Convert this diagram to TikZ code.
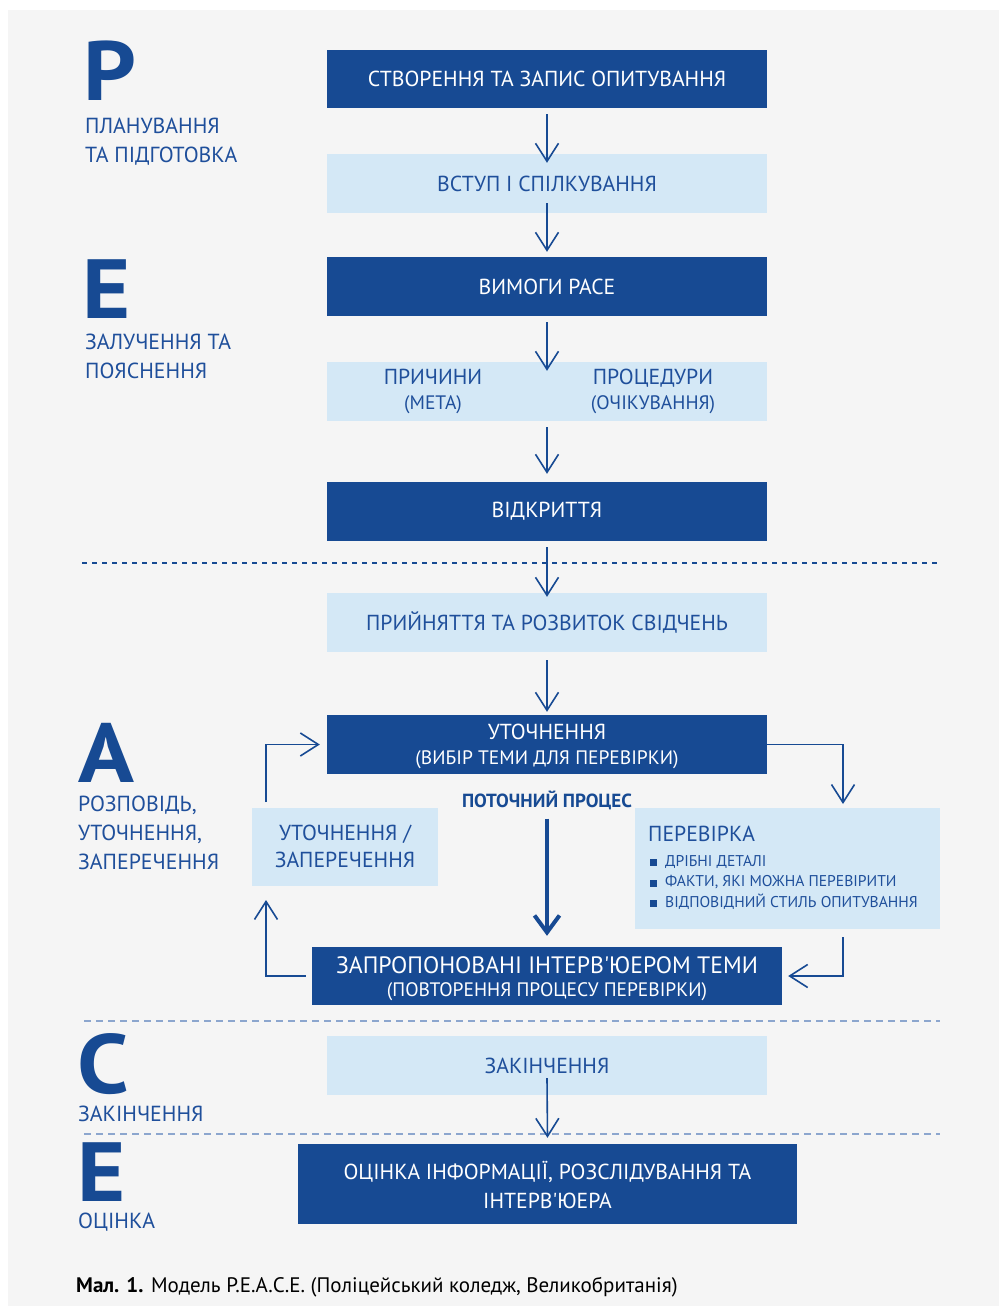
\documentclass[tikz,border=0pt]{standalone}
\usepackage{fontspec}
\setmainfont{PT Sans}
\newfontfamily\nolig{PT Sans}[Ligatures=TeXOff]
\usetikzlibrary{arrows.meta,calc}
\definecolor{dblue}{HTML}{174A93}
\definecolor{lbox}{HTML}{D4E8F6}
\definecolor{tblue}{HTML}{1F4F9B}
\definecolor{bgc}{HTML}{F5F5F5}
\definecolor{ldash}{HTML}{8CA6CE}
\newcommand{\sqb}{\textcolor{dblue}{\rule{7pt}{7pt}}\hspace{8pt}}
\newcommand{\wideletter}[1]{\scalebox{1.1}[1]{#1}}
\newcommand{\apos}{{\nolig'}}
% #1 raise of first baseline above box centre, #2 extra row gap, #3 line 1, #4 line 2
\newcommand{\twolines}[4]{\raisebox{#1}[0pt][0pt]{\begin{tabular}[t]{@{}c@{}}#3\\[#2]#4\end{tabular}}}
\begin{document}
\begin{tikzpicture}[x=1pt,y=-1pt,
  darkbox/.style={fill=dblue,text=white,inner sep=0pt,align=center,font=\fontsize{21.7}{27}\selectfont},
  lightbox/.style={fill=lbox,text=tblue,inner sep=0pt,align=center,font=\fontsize{21.7}{27}\selectfont},
  bigletter/.style={anchor=base west,inner sep=0pt,text=dblue,font=\fontsize{84}{84}\selectfont\bfseries},
  sidelabel/.style={anchor=base west,inner sep=0pt,text=tblue,font=\fontsize{21.8}{24}\selectfont},
  arr/.style={draw=dblue,line width=1.6pt,-{Straight Barb[length=18pt,width=23pt]}},
  arrthick/.style={draw=dblue,line width=4pt,-{Straight Barb[length=17pt,width=25pt]}},
  darkdash/.style={draw=dblue,line width=1.2pt,dash pattern=on 5pt off 5pt},
  lightdash/.style={draw=ldash,line width=1.6pt,dash pattern=on 7pt off 5pt}]
\fill[white] (0,0) rectangle (999,1306);
\fill[bgc] (8,10) rectangle (999,1306);
\useasboundingbox (0,0) rectangle (999,1306);

% dashed separators
\draw[darkdash] (82,563) -- (940,563);
\draw[lightdash] (84,1021) -- (940,1021);
\draw[lightdash] (84,1134) -- (940,1134);

% big letters and side labels
\node[bigletter] (LP) at (83,100) {\wideletter{P}};
\node[sidelabel] (lp1) at (85,133) {ПЛАНУВАННЯ};
\node[sidelabel] (lp2) at (85,162) {ТА ПІДГОТОВКА};
\node[bigletter] (LE) at (82,318) {\wideletter{E}};
\node[sidelabel] (le1) at (85,349) {ЗАЛУЧЕННЯ ТА};
\node[sidelabel] (le2) at (85,378) {ПОЯСНЕННЯ};
\node[bigletter] (LA) at (78,782) {\wideletter{A}};
\node[sidelabel] (la1) at (78,811) {РОЗПОВІДЬ,};
\node[sidelabel] (la2) at (78,840) {УТОЧНЕННЯ,};
\node[sidelabel] (la3) at (78,869) {ЗАПЕРЕЧЕННЯ};
\node[bigletter] (LC) at (77,1093) {\wideletter{C}};
\node[sidelabel] (lc1) at (78,1121) {ЗАКІНЧЕННЯ};
\node[bigletter] (LE2) at (77,1201) {\wideletter{E}};
\node[sidelabel] (le3) at (78,1228) {ОЦІНКА};

% main column
\node[darkbox,minimum width=440pt,minimum height=58pt] (n1) at (547,79) {СТВОРЕННЯ ТА ЗАПИС ОПИТУВАННЯ};
\node[lightbox,minimum width=440pt,minimum height=59pt] (n2) at (547,183.5) {ВСТУП І СПІЛКУВАННЯ};
\node[darkbox,minimum width=440pt,minimum height=59pt] (n3) at (547,286.5) {ВИМОГИ PACE};
\node[lightbox,minimum width=440pt,minimum height=59pt] (n4) at (547,391.5) {};
\node[text=tblue,inner sep=0pt,align=center,font=\fontsize{21.7}{25}\selectfont] (n4a) at (433,391.5) {ПРИЧИНИ\\{\fontsize{19.5}{20}\selectfont(МЕТА)}};
\node[text=tblue,inner sep=0pt,align=center,font=\fontsize{21.7}{25}\selectfont] (n4b) at (653,391.5) {ПРОЦЕДУРИ\\{\fontsize{19.5}{20}\selectfont(ОЧІКУВАННЯ)}};
\node[darkbox,minimum width=440pt,minimum height=59pt] (n5) at (547,511.5) {ВІДКРИТТЯ};
\node[lightbox,minimum width=440pt,minimum height=59pt] (n6) at (547,622.5) {ПРИЙНЯТТЯ ТА РОЗВИТОК СВІДЧЕНЬ};
\node[darkbox,minimum width=440pt,minimum height=59pt] (n7) at (547,744.5) {\twolines{4.9pt}{-1.8pt}{УТОЧНЕННЯ}{\fontsize{19.5}{22}\selectfont(ВИБІР ТЕМИ ДЛЯ ПЕРЕВІРКИ)}};
\node[inner sep=0pt,text=dblue,font=\fontsize{19}{22}\selectfont\bfseries] (lbl) at (547,800) {ПОТОЧНИЙ ПРОЦЕС};
\node[darkbox,minimum width=470pt,minimum height=58pt] (n8) at (547,976) {\twolines{2.7pt}{-3.5pt}{\fontsize{23.7}{26}\selectfont ЗАПРОПОНОВАНІ ІНТЕРВ\apos ЮЕРОМ ТЕМИ}{\fontsize{19.5}{23}\selectfont(ПОВТОРЕННЯ ПРОЦЕСУ ПЕРЕВІРКИ)}};
\node[lightbox,minimum width=186pt,minimum height=78pt] (n9) at (345,847) {\twolines{6.4pt}{0pt}{УТОЧНЕННЯ /}{ЗАПЕРЕЧЕННЯ}};
\node[lightbox,minimum width=305pt,minimum height=121pt] (n10) at (787.5,868.5) {};
\node[anchor=base west,inner sep=0pt,text=tblue,font=\fontsize{21.7}{24}\selectfont] (t10) at (648,841) {ПЕРЕВІРКА};
\node[anchor=north west,inner sep=0pt,text=tblue,align=left,font=\fontsize{15.6}{20.5}\selectfont] (b10) at (650,855) {\sqb ДРІБНІ ДЕТАЛІ\\\sqb ФАКТИ, ЯКІ МОЖНА ПЕРЕВІРИТИ\\\sqb ВІДПОВІДНИЙ СТИЛЬ ОПИТУВАННЯ};
\node[lightbox,minimum width=440pt,minimum height=59pt] (n11) at (547,1065.5) {ЗАКІНЧЕННЯ};
\node[darkbox,minimum width=499pt,minimum height=80pt] (n12) at (547.5,1184) {\twolines{4.4pt}{2pt}{ОЦІНКА ІНФОРМАЦІЇ, РОЗСЛІДУВАННЯ ТА}{ІНТЕРВ\apos ЮЕРА}};

% caption
\node[anchor=base west,inner sep=0pt,text=black,font=\fontsize{21}{24}\selectfont] (cap) at (76,1292) {\textbf{Мал. 1.} Модель P.E.A.C.E. (Поліцейський коледж, Великобританія)};

% vertical arrows
\draw[arr] ([yshift=-6pt]n1.south) -- ([yshift=-9pt]n2.north);
\draw[arr] ([yshift=10pt]n2.south) -- ([yshift=5pt]n3.north);
\draw[arr] ([yshift=-6pt]n3.south) -- ([yshift=-9pt]n4.north);
\draw[arr] ([yshift=-6pt]n4.south) -- ([yshift=8pt]n5.north);
\draw[arr] ([yshift=-6pt]n5.south) -- ([yshift=-4pt]n6.north);
\draw[arr] ([yshift=-8pt]n6.south) -- ([yshift=3pt]n7.north);
\draw[arrthick] ([yshift=-9pt]lbl.south) -- ([yshift=11pt]n8.north);
\draw[arr] ([yshift=17pt]n11.south) -- ([yshift=6pt]n12.north);

% loop connectors
\coordinate (c1) at (843,804);
\coordinate (c2) at (843,937);
\coordinate (c3) at (266,900);
\coordinate (c4) at (266,802);
\draw[arr] (n7.east) -| (c1);
\draw[arr] (c2) |- ([xshift=6pt]n8.east);
\draw[arr] ([xshift=-6pt]n8.west) -| (c3);
\draw[arr] (c4) |- ([xshift=-7pt]n7.west);
\end{tikzpicture}
\end{document}
